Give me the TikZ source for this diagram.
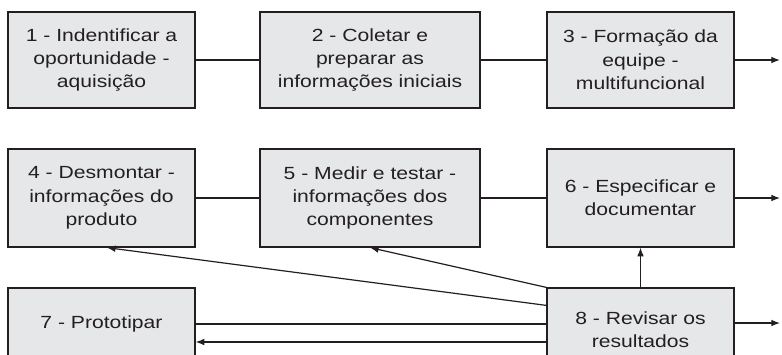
\documentclass[tikz,border=0pt]{standalone}
\usepackage{fontspec}
\setmainfont[FakeStretch=1.2]{Liberation Sans}
\usetikzlibrary{arrows.meta}
\definecolor{boxgray}{HTML}{E6E7E8}
\definecolor{inkblack}{HTML}{231F20}

\begin{document}
\begin{tikzpicture}[x=0.75pt, y=-0.75pt, >={Latex[length=6.5pt,width=5pt]},
        stage/.style={draw=inkblack, line width=0.9pt, fill=boxgray, text=inkblack, align=center, inner sep=0pt, font=\fontsize{13.2}{17.5}\selectfont},
        narrow/.style={minimum width=140.25pt}, wide/.style={minimum width=165pt},
        row1/.style={minimum height=72pt}, row2/.style={minimum height=73.5pt}, row3/.style={minimum height=54pt},
        link/.style={draw=inkblack, line width=0.9pt}]
    \clip (0,0) rectangle (782,354);
    % first row
    \node[stage, narrow, row1] (s1) at (101.5,60) {1 - Indentificar a\\oportunidade -\\aquisição};
    \node[stage, wide, row1] (s2) at (370,60) {2 - Coletar e\\preparar as\\informações iniciais};
    \node[stage, narrow, row1] (s3) at (640.5,60) {3 - Formação da\\equipe -\\multifuncional};
    % second row
    \node[stage, narrow, row2] (s4) at (101.5,198) {4 - Desmontar -\\informações do\\produto};
    \node[stage, wide, row2] (s5) at (370,198) {5 - Medir e testar -\\informações dos\\componentes};
    \node[stage, narrow, row2] (s6) at (640.5,198) {6 - Especificar e\\documentar};
    % third row
    \node[stage, narrow, row3] (s7) at (101.5,324) {7 - Prototipar};
    \node[stage, narrow, minimum height=63pt] (s8) at (640.5,330) {8 - Revisar os\\resultados};
    \coordinate (e3) at (780,60);
    \coordinate (e6) at (780,198);
    \coordinate (e8) at (780,323);
    \coordinate (r7) at ([yshift=-13.5pt]s7.east);

    \draw[link] (s1) -- (s2);
    \draw[link] (s2) -- (s3);
    \draw[link,->] (s3) -- (e3);
    \draw[link] (s4) -- (s5);
    \draw[link] (s5) -- (s6);
    \draw[link,->] (s6) -- (e6);
    \draw[link,->] (s8) -- (s6);
    \draw[link,->] (e8 -| s8.east) -- (e8);
    \draw[link,->] (s8.north west) -- (s5.south);
    \draw[link,->] ([yshift=-13.5pt]s8.north west) -- ([xshift=4pt]s4.south);
    \draw[link] (s7.east) -- (s7.east -| s8.west);
    \draw[link,->] (r7 -| s8.west) -- (r7);
\end{tikzpicture}
\end{document}
